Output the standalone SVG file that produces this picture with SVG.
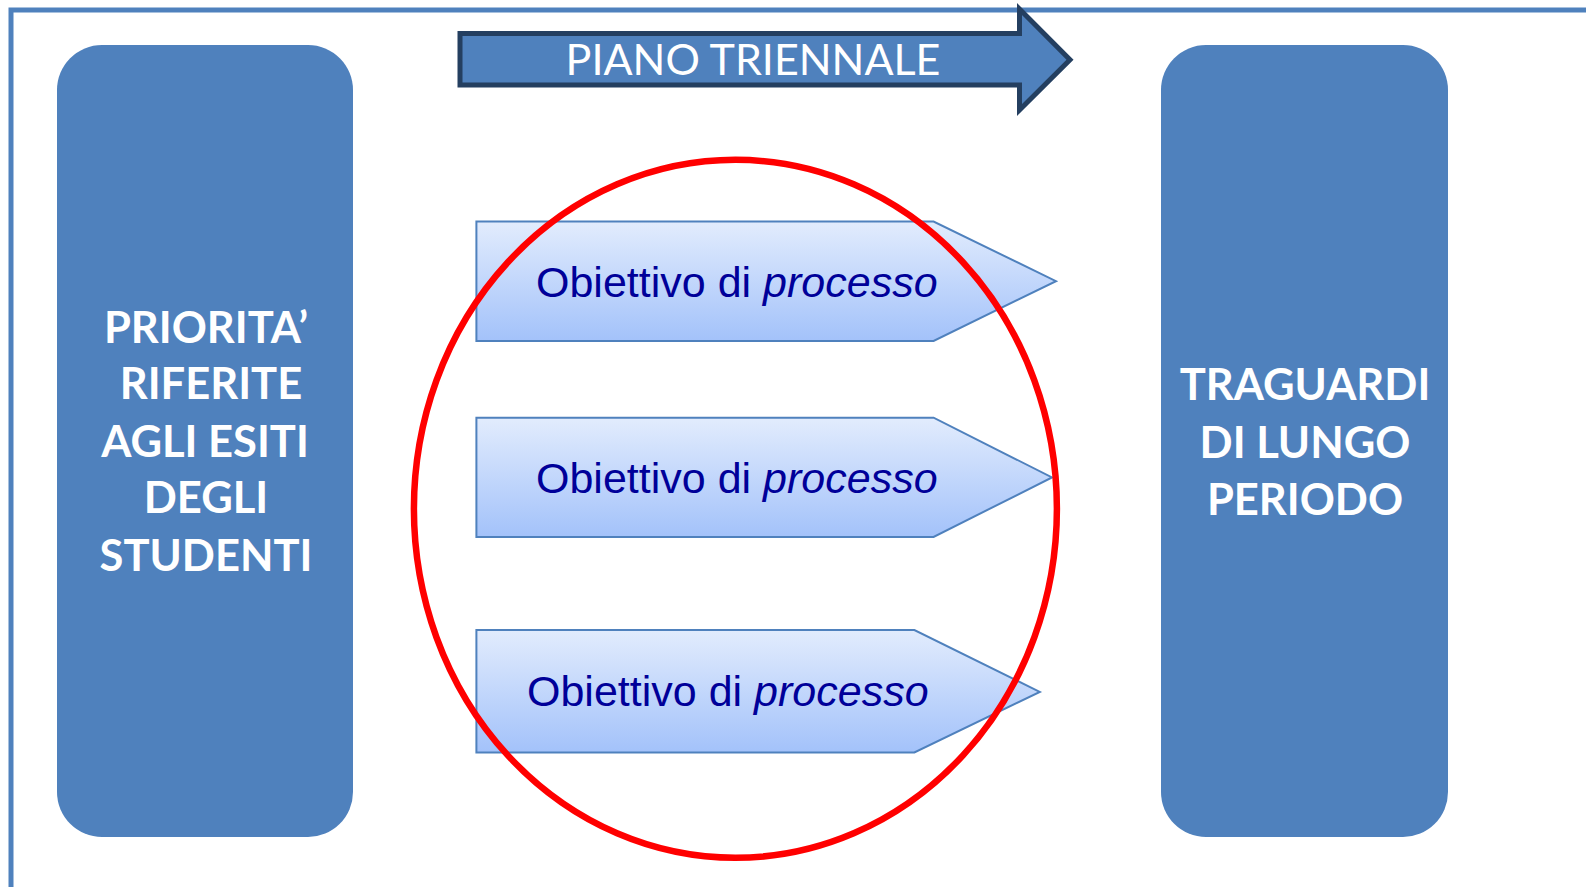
<svg xmlns="http://www.w3.org/2000/svg" width="1586" height="887" viewBox="0 0 1586 887">
<style>
.box{fill:#4f81bd}
.boxt{font-family:Lato,"Open Sans",sans-serif;font-weight:bold;font-size:43.5px;fill:#fff;text-anchor:middle}
.pent{fill:url(#g);stroke:#4f81bd;stroke-width:2}
.pt{font-family:"Liberation Sans",Arial,sans-serif;font-size:43px;fill:#000099}
</style>
<defs>
<linearGradient id="g" x1="0" y1="0" x2="0" y2="1">
<stop offset="0" stop-color="#e2ecfd"/>
<stop offset="1" stop-color="#a3c2fa"/>
</linearGradient>
</defs>
<rect x="11" y="10" width="1600" height="900" fill="none" stroke="#4f81bd" stroke-width="5"/>
<g id="priorita">
<rect class="box" x="57" y="45" width="296" height="792" rx="45"/>
<text class="boxt" x="206" y="343">PRIORITA’</text>
<text class="boxt" x="211" y="399">RIFERITE</text>
<text class="boxt" x="205" y="457">AGLI ESITI</text>
<text class="boxt" x="206" y="513">DEGLI</text>
<text class="boxt" x="206" y="571">STUDENTI</text>
</g>
<g id="traguardi">
<rect class="box" x="1161" y="45" width="287" height="792" rx="45"/>
<text class="boxt" x="1305" y="400">TRAGUARDI</text>
<text class="boxt" x="1305" y="458">DI LUNGO</text>
<text class="boxt" x="1305" y="515">PERIODO</text>
</g>
<g id="piano">
<path d="M460 33.5 H1019.5 V9 L1070 59.7 L1019.5 110 V85 H460 Z" fill="#4f81bd" stroke="#243f60" stroke-width="5" stroke-linejoin="miter"/>
<text x="753" y="75" font-family="Lato,sans-serif" font-size="43" fill="#fff" text-anchor="middle">PIANO TRIENNALE</text>
</g>
<g id="obiettivo1">
<path class="pent" d="M476.4 221.5 H933.6 L1056 281.2 L933.6 340.9 H476.4 Z"/>
<text class="pt" x="536" y="297">Obiettivo di <tspan font-style="italic">processo</tspan></text>
</g>
<g id="obiettivo2">
<path class="pent" d="M476.4 417.7 H933.6 L1052 477.4 L933.6 537 H476.4 Z"/>
<text class="pt" x="536" y="493">Obiettivo di <tspan font-style="italic">processo</tspan></text>
</g>
<g id="obiettivo3">
<path class="pent" d="M476.4 630 H914.4 L1039.8 691.9 L914.4 752.5 H476.4 Z"/>
<text class="pt" x="527" y="706">Obiettivo di <tspan font-style="italic">processo</tspan></text>
</g>
<g id="connectors">
<ellipse cx="735.4" cy="508.8" rx="321.5" ry="349" fill="none" stroke="#ff0000" stroke-width="6.5"/>
</g>
</svg>
